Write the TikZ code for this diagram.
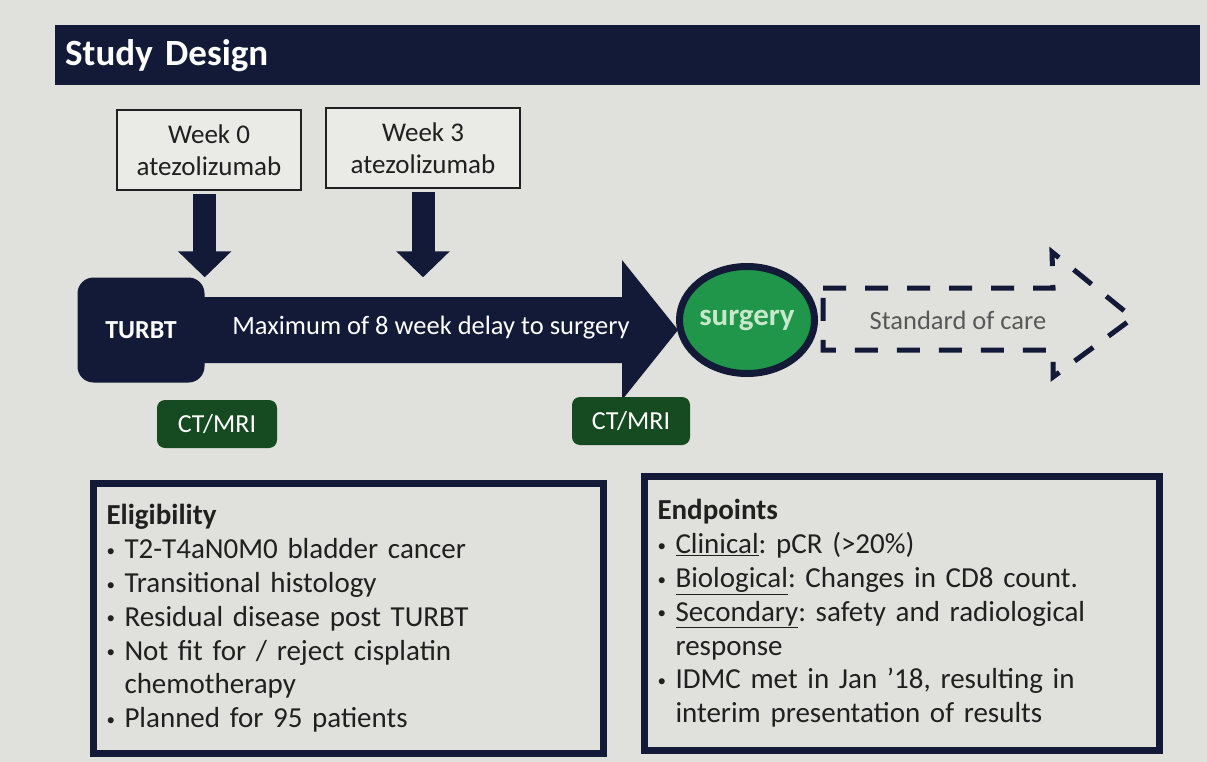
\documentclass[tikz,border=0pt]{standalone}
\usepackage{fontspec}
\setmainfont{Carlito}
\usetikzlibrary{arrows.meta,shapes.geometric}
\definecolor{navy}{RGB}{18,26,56}
\definecolor{paper}{RGB}{224,224,220}
\definecolor{card}{RGB}{234,234,231}
\definecolor{ink}{RGB}{32,32,32}
\definecolor{surggreen}{RGB}{32,150,74}
\definecolor{surgtext}{RGB}{200,232,204}
\definecolor{scangreen}{RGB}{22,74,32}
\newcommand{\bul}{\makebox[18pt][l]{\raisebox{2.5pt}{\fontsize{17}{17}\selectfont\textbullet}}}

\begin{document}
\frenchspacing
\begin{tikzpicture}[x=1pt, y=-1pt,
  titlebar/.style={fill=navy, text=white, anchor=north west, align=left,
    text width=1125pt, inner xsep=10pt, minimum height=60pt,
    font=\fontsize{37}{40}\selectfont\bfseries},
  weekbox/.style={draw=ink, line width=2.5pt, fill=card, text=ink, align=center,
    minimum height=80pt, font=\fontsize{27}{32}\selectfont},
  dose/.style={navy, line width=23pt, shorten <=3pt, -{Triangle[width=52pt,length=26pt]}},
  turbt/.style={fill=navy, text=white, rounded corners=16pt, minimum width=127pt,
    minimum height=105pt, font=\fontsize{26}{30}\selectfont\bfseries},
  scan/.style={fill=scangreen, text=white, rounded corners=8pt, minimum height=48pt,
    font=\fontsize{26}{30}\selectfont},
  soc/.style={navy, line width=5pt, dash pattern=on 23pt off 19pt},
  infobox/.style={draw=navy, line width=7pt, fill=paper, text=ink, anchor=north west,
    align=left, inner xsep=13pt, font=\fontsize{29}{33.8}\selectfont}
]
  \fill[paper] (0,0) rectangle (1207,762);

  \node[titlebar] (title) at (55,25) {Study Design};

  % doses and the way to surgery
  \node[weekbox, minimum width=184pt] (wk0) at (209,150) {Week 0\\atezolizumab};
  \node[weekbox, minimum width=194pt] (wk3) at (423,148) {Week 3\\atezolizumab};

  \node[turbt] (turbt) at (141,330) {TURBT};
  \fill[navy] ([shift={(-2,-33)}]turbt.east) -- (622,297) -- (622,260) -- (678,330)
    -- (622,400) -- (622,363) -- ([shift={(-2,33)}]turbt.east) -- cycle;
  \node[text=white, font=\fontsize{26.5}{30}\selectfont] (delay) at (431,328)
    {Maximum of 8 week delay to surgery};

  \draw[dose] (wk0.south -| turbt.north east) -- (turbt.north east);
  \draw[dose] (wk3.south) -- (wk3.south |- turbt.north);

  \node[ellipse, fill=surggreen, draw=navy, line width=7pt, minimum width=118pt,
    minimum height=107pt, inner sep=0pt, text=surgtext,
    font=\fontsize{31}{32}\selectfont\bfseries] (surgery) at (747,320) {surgery};

  \draw[soc] (823,288) -- (1053,288) -- (1052,252) -- (1133,318) -- (1053,377)
    -- (1053,350) -- (823,350) -- cycle;
  \node[text=ink!75, font=\fontsize{26.5}{30}\selectfont] (care) at (958,320) {Standard of care};

  \node[scan, minimum width=120pt] (ct1) at (217,424) {CT/MRI};
  \node[scan, minimum width=118pt] (ct2) at (631,421) {CT/MRI};

  % criteria and endpoints
  \node[infobox, text width=484pt, minimum height=270pt] (elig) at (90,480) {%
    {\bfseries Eligibility}\\
    \bul T2-T4aN0M0 bladder cancer\\
    \bul Transitional histology\\
    \bul Residual disease post TURBT\\
    \bul Not fit for / reject cisplatin\\
    \hspace*{18pt}chemotherapy\\
    \bul Planned for 95 patients};
  \node[infobox, text width=489pt, minimum height=274pt] (endp) at (641,473) {%
    {\bfseries Endpoints}\\
    \bul\underline{Clinical}: pCR (>20\%)\\
    \bul\underline{Biological}: Changes in CD8 count.\\
    \bul\underline{Secondary}: safety and radiological\\
    \hspace*{18pt}response\\
    \bul IDMC met in Jan '18, resulting in\\
    \hspace*{18pt}interim presentation of results};
\end{tikzpicture}
\end{document}
